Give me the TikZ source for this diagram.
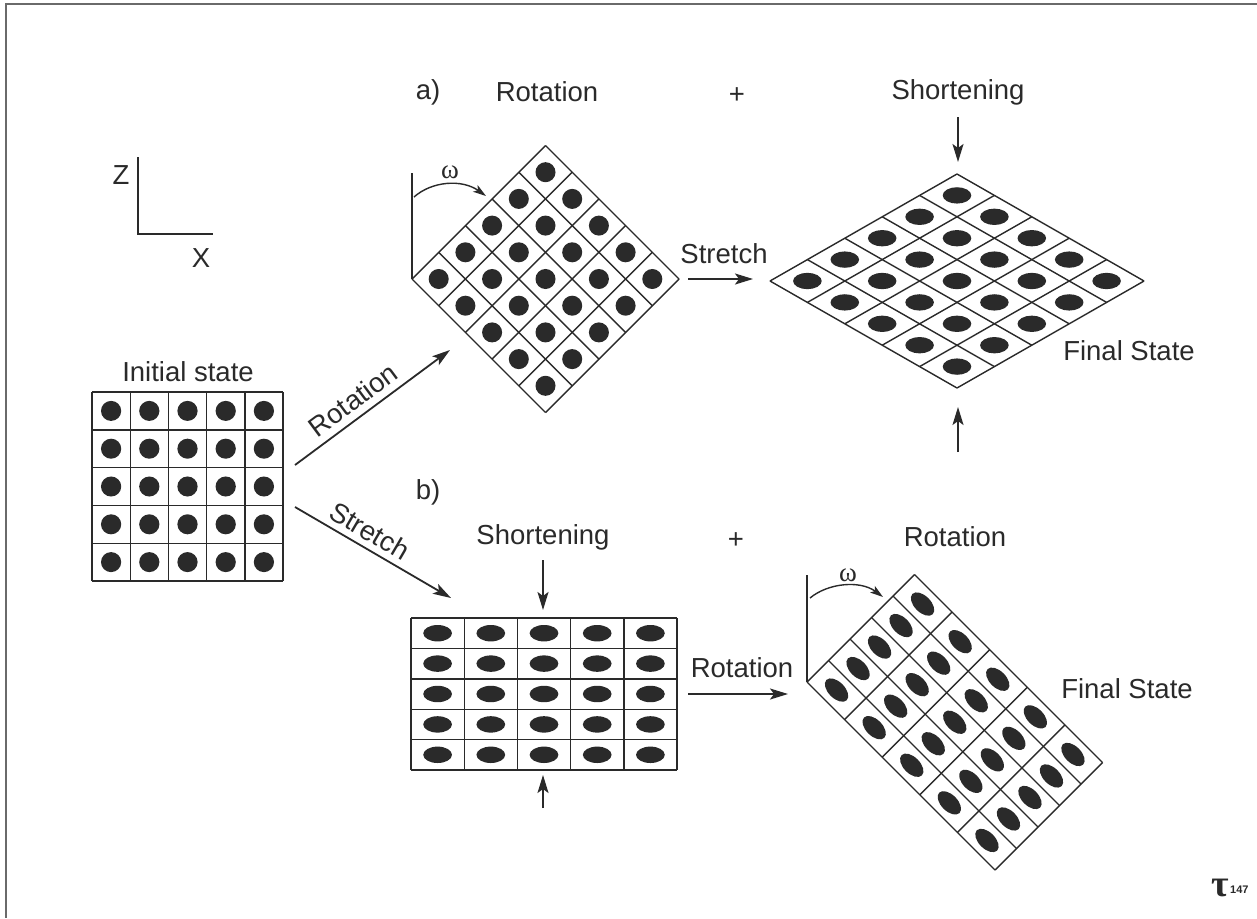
\documentclass[tikz,border=0pt]{standalone}
\usepackage{fontspec}
\setmainfont{Liberation Sans}
\newfontfamily\grkserif{Liberation Serif}
\usetikzlibrary{arrows.meta}
\definecolor{ink}{RGB}{42,42,42}
\begin{document}
\begin{tikzpicture}[x=1pt,y=-1pt,
  lbl/.style={font=\fontsize{27.5}{33}\selectfont, text=ink, inner sep=0pt},
  omlbl/.style={font=\grkserif\fontsize{27}{30}\selectfont, text=ink, inner sep=0pt},
  gridline/.style={draw=ink, line width=1.4pt},
  dot/.style={fill=ink},
  arr/.style={draw=ink, line width=1.8pt, -{Stealth[length=18pt,width=11pt,inset=4pt]}},
  omarr/.style={draw=ink, line width=1.4pt, -{Stealth[length=13pt,width=8pt,inset=3pt]}},
  axisline/.style={draw=ink, line width=1.8pt},
]
\fill[white] (0,0) rectangle (1257,918);
\useasboundingbox (0,0) rectangle (1257,918);
% frame (top and left edges)
\draw[ink!70, line width=2pt] (1257,4) -- (6,4) -- (6,918);

% axes
\coordinate (zt) at (138,157);
\coordinate (zo) at (138,234);
\coordinate (xe) at (213,234);
\draw[axisline] (zt) -- (zo) -- (xe);
\node[lbl] (zlab) at (121,175) {Z};
\node[lbl] (xlab) at (201,258) {X};

% initial state
\node[lbl] (init) at (188,372) {Initial state};
\begin{scope}[shift={(92,581)}, x={(38.2pt,0pt)}, y={(0pt,37.8pt)}]
  \foreach \k in {0,...,5} {\draw[gridline] (\k,0) -- (\k,5); \draw[gridline] (0,\k) -- (5,\k);}
  \foreach \i in {0,...,4} \foreach \j in {0,...,4} \fill[dot] (\i+0.5,\j+0.5) circle (0.265);
\end{scope}

% a) rotated square
\begin{scope}[shift={(412,279)}, x={(26.7pt,-26.7pt)}, y={(26.7pt,26.7pt)}]
  \foreach \k in {0,...,5} {\draw[gridline] (\k,0) -- (\k,5); \draw[gridline] (0,\k) -- (5,\k);}
  \foreach \i in {0,...,4} \foreach \j in {0,...,4} \fill[dot] (\i+0.5,\j+0.5) circle (0.265);
  \coordinate (aL) at (0,0);
\end{scope}
\coordinate (aTop) at (412,173);
\draw[gridline] (aL) -- (aTop);
\coordinate (om1s) at (414,197);
\coordinate (om1e) at (486,196);
\draw[omarr] (om1s) .. controls (432,181) and (462,179) .. (om1e);
\node[omlbl] (om1) at (450,172) {ω};

% a) final state
\begin{scope}[shift={(770,281)}, x={(37.4pt,-21.4pt)}, y={(37.4pt,21.4pt)}]
  \foreach \k in {0,...,5} {\draw[gridline] (\k,0) -- (\k,5); \draw[gridline] (0,\k) -- (5,\k);}
  \foreach \i in {0,...,4} \foreach \j in {0,...,4} \fill[dot] (\i+0.5,\j+0.5) circle (0.27);
\end{scope}

% b) shortened rectangle
\begin{scope}[shift={(411,770)}, x={(53.2pt,0pt)}, y={(0pt,30.4pt)}]
  \foreach \k in {0,...,5} {\draw[gridline] (\k,0) -- (\k,5); \draw[gridline] (0,\k) -- (5,\k);}
  \foreach \i in {0,...,4} \foreach \j in {0,...,4} \fill[dot] (\i+0.5,\j+0.5) circle (0.27);
\end{scope}

% b) final state
\begin{scope}[shift={(807,682)}, x={(37.6pt,-37.6pt)}, y={(21.5pt,21.5pt)}]
  \foreach \k in {0,...,5} {\draw[gridline] (\k,0) -- (\k,5); \draw[gridline] (0,\k) -- (5,\k);}
  \foreach \i in {0,...,4} \foreach \j in {0,...,4} \fill[dot] (\i+0.5,\j+0.5) circle (0.27);
  \coordinate (bL) at (0,0);
\end{scope}
\coordinate (bTop) at (807,575);
\draw[gridline] (bL) -- (bTop);
\coordinate (om2s) at (810,598);
\coordinate (om2e) at (883,597);
\draw[omarr] (om2s) .. controls (828,583) and (860,580) .. (om2e);
\node[omlbl] (om2) at (848,575) {ω};

% labels, top row
\node[lbl] (la) at (428,92) {a)};
\node[lbl] (rotA) at (547,92) {Rotation};
\node[lbl] (plusA) at (737,96) {+};
\node[lbl] (shortA) at (958,92) {Shortening};
\node[lbl] (finA) at (1129,351) {Final State};
\node[lbl] (strA) at (724,254) {Stretch};

% labels, bottom row
\node[lbl] (lb) at (428,492) {b)};
\node[lbl] (shortB) at (543,537) {Shortening};
\node[lbl] (plusB) at (736,541) {+};
\node[lbl] (rotB) at (955,537) {Rotation};
\node[lbl] (finB) at (1127,689) {Final State};
\node[lbl] (rotBl) at (742,668) {Rotation};

% diagonal arrows from initial state
\coordinate (r1s) at (295,465);
\coordinate (r1e) at (450,350);
\draw[arr] (r1s) -- (r1e);
\node[lbl, rotate=36.6] (rotDiag) at (353,400) {Rotation};
\coordinate (s1s) at (295,507);
\coordinate (s1e) at (451,598);
\draw[arr] (s1s) -- (s1e);
\node[lbl, rotate=-30.4] (strDiag) at (370,531) {Stretch};

% horizontal arrows
\coordinate (stA1) at (688,279);
\coordinate (stA2) at (753,279);
\draw[arr] (stA1) -- (stA2);
\coordinate (rtB1) at (688,694);
\coordinate (rtB2) at (788,694);
\draw[arr] (rtB1) -- (rtB2);

% shortening arrows
\coordinate (sa1) at (958,117);
\coordinate (sa2) at (958,162);
\draw[arr] (sa1) -- (sa2);
\coordinate (sa3) at (958,452);
\coordinate (sa4) at (958,407);
\draw[arr] (sa3) -- (sa4);
\coordinate (sb1) at (543,560);
\coordinate (sb2) at (543,610);
\draw[arr] (sb1) -- (sb2);
\coordinate (sb3) at (543,808);
\coordinate (sb4) at (543,775);
\draw[arr] (sb3) -- (sb4);

% logo
\node[text=ink, inner sep=0pt, font=\grkserif\bfseries\fontsize{38}{38}\selectfont] (logo) at (1220,888) {τ};
\node[text=ink, inner sep=0pt, font=\fontsize{11}{11}\selectfont\bfseries, anchor=west] (logonum) at (1230,890) {147};
\end{tikzpicture}
\end{document}
